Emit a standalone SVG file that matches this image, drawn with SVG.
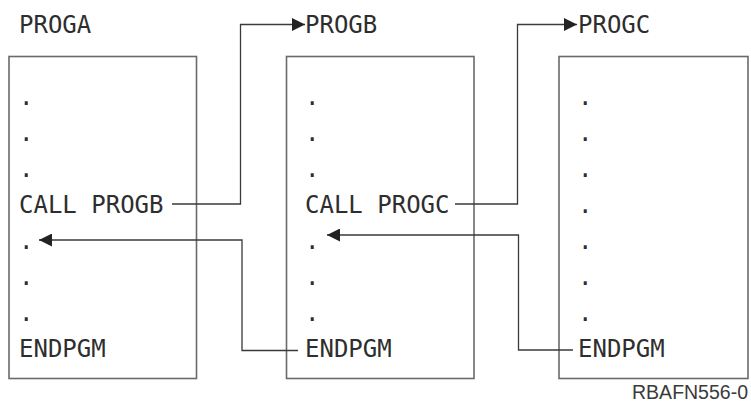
<svg xmlns="http://www.w3.org/2000/svg" width="751" height="410" viewBox="0 0 751 410">
<style>
.box{fill:none;stroke:#6a6a6a;stroke-width:1.6}
.t{font-family:"DejaVu Sans Mono",monospace;font-size:24px;fill:#2e2e2e}
.c{fill:none;stroke:#3a3a3a;stroke-width:1.3}
.lbl{font-family:"Liberation Sans",Arial,sans-serif;font-size:19.5px;fill:#3a3a3a}
</style>
<defs>
<marker id="ah" viewBox="0 0 13 13" refX="13" refY="6.5" markerWidth="13" markerHeight="13" markerUnits="userSpaceOnUse" orient="auto">
<path d="M0,0 L13,6.5 L0,13 Z" fill="#222"/>
</marker>
</defs>
<rect width="751" height="410" fill="#fff"/>
<g id="progA">
<text class="t" x="19" y="33">PROGA</text>
<rect class="box" x="9" y="56.5" width="187.5" height="322"/>
<text class="t" x="19" y="105">.</text>
<text class="t" x="19" y="141">.</text>
<text class="t" x="19" y="177">.</text>
<text class="t" x="19" y="213">CALL PROGB</text>
<text class="t" x="19" y="249">.</text>
<text class="t" x="19" y="285">.</text>
<text class="t" x="19" y="321">.</text>
<text class="t" x="19" y="357">ENDPGM</text>
</g>
<g id="progB">
<text class="t" x="305" y="33">PROGB</text>
<rect class="box" x="286.5" y="56.5" width="187.5" height="322"/>
<text class="t" x="305" y="105">.</text>
<text class="t" x="305" y="141">.</text>
<text class="t" x="305" y="177">.</text>
<text class="t" x="305" y="213">CALL PROGC</text>
<text class="t" x="305" y="249">.</text>
<text class="t" x="305" y="285">.</text>
<text class="t" x="305" y="321">.</text>
<text class="t" x="305" y="357">ENDPGM</text>
</g>
<g id="progC">
<text class="t" x="578" y="33">PROGC</text>
<rect class="box" x="559" y="56.5" width="189" height="322"/>
<text class="t" x="578" y="105">.</text>
<text class="t" x="578" y="141">.</text>
<text class="t" x="578" y="177">.</text>
<text class="t" x="578" y="213">.</text>
<text class="t" x="578" y="249">.</text>
<text class="t" x="578" y="285">.</text>
<text class="t" x="578" y="321">.</text>
<text class="t" x="578" y="357">ENDPGM</text>
</g>
<g id="connectors">
<path class="c" d="M172,204 H240.5 V24.5 H305" marker-end="url(#ah)"/>
<path class="c" d="M298,350.5 H242 V240 H39" marker-end="url(#ah)"/>
<path class="c" d="M455,204 H517.5 V24.5 H577" marker-end="url(#ah)"/>
<path class="c" d="M573,350 H518.5 V235 H327" marker-end="url(#ah)"/>
</g>
<text class="lbl" x="748" y="399" text-anchor="end">RBAFN556-0</text>
</svg>
